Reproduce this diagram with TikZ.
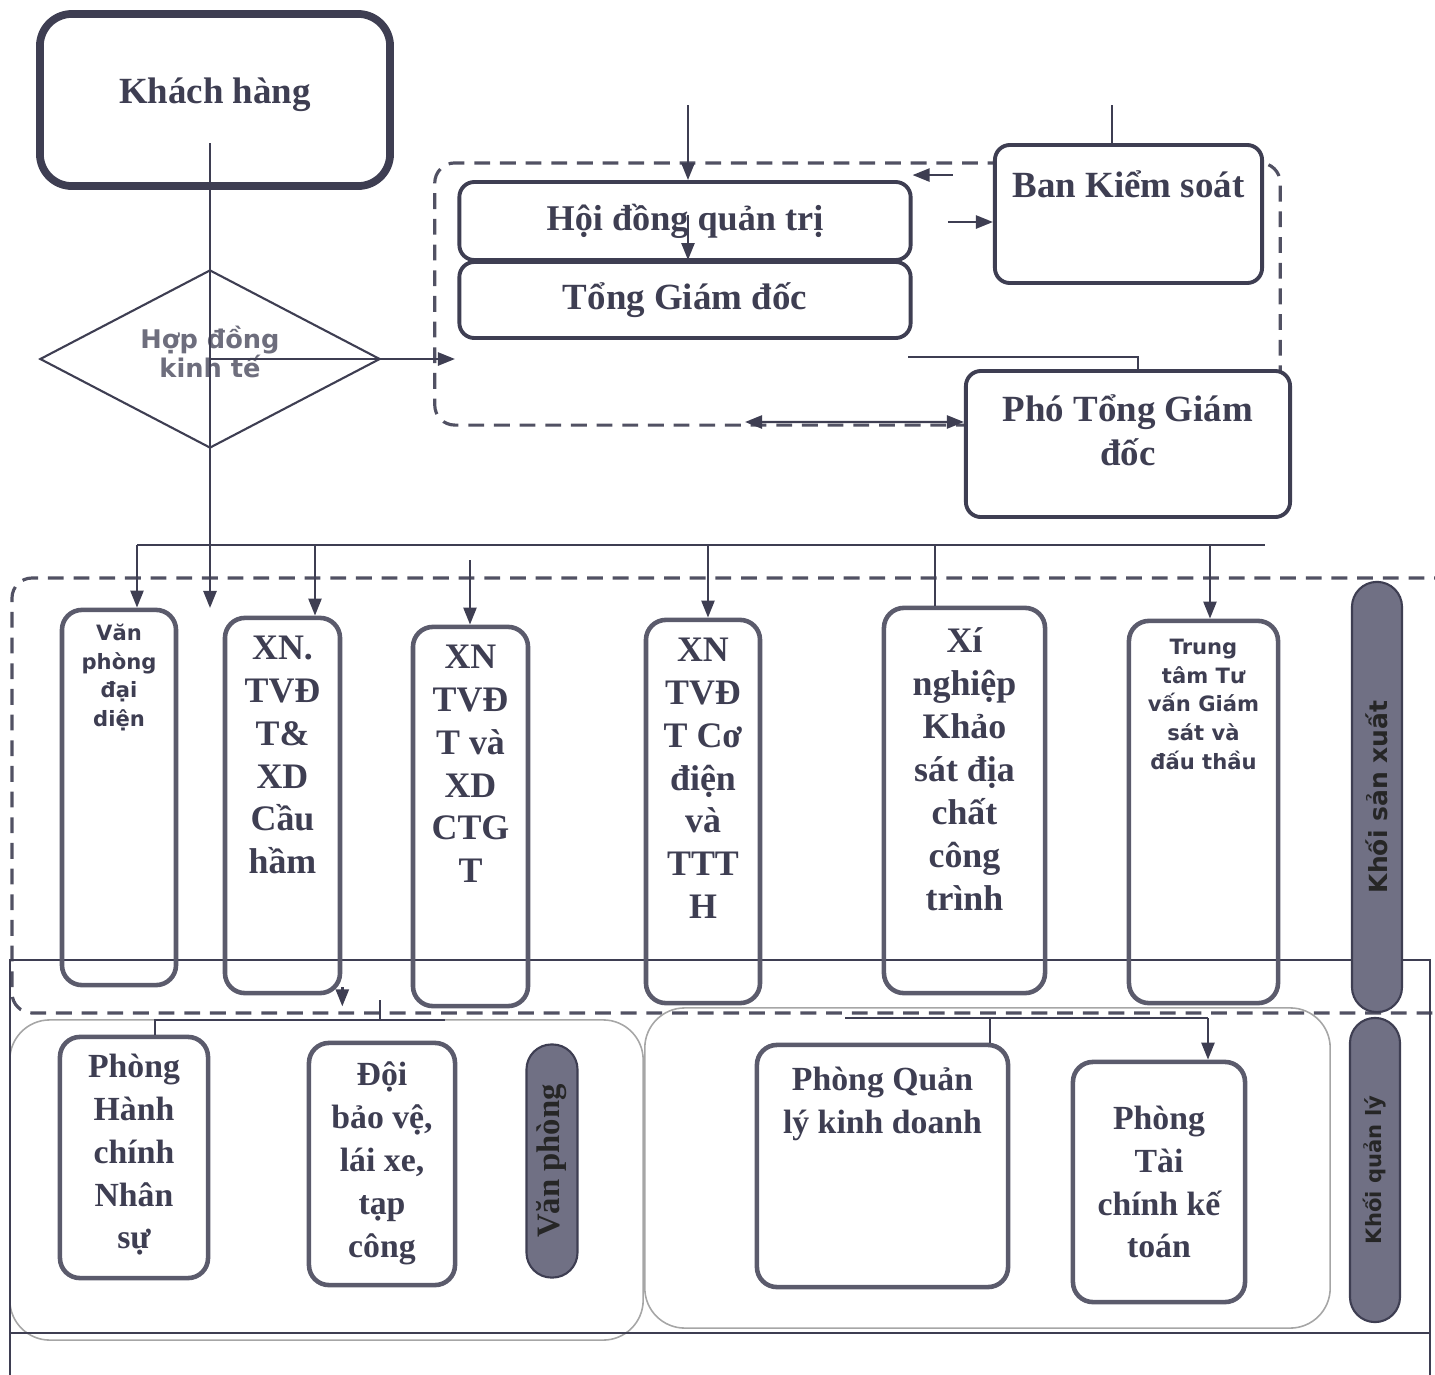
\documentclass[tikz,border=0pt]{standalone}
\usepackage{fontspec}
\setmainfont{Liberation Serif}
\newfontfamily\dejavu{DejaVu Sans}
\usetikzlibrary{positioning,shapes.geometric,arrows.meta,calc}
\definecolor{ink}{RGB}{62,62,82}
\definecolor{pillgray}{RGB}{112,112,132}
\tikzset{
  kbox/.style={draw=ink, line width=2.2pt, rounded corners=0.32cm, inner sep=0pt},
  tbox/.style={draw=ink, line width=1.1pt, rounded corners=0.15cm, inner sep=0pt},
  pbox/.style={draw=ink!85, line width=1.3pt, rounded corners=0.2cm, inner sep=0pt},
  grp/.style={draw=ink!90, line width=0.9pt, dash pattern=on 4.5pt off 2.8pt, rounded corners=0.2cm},
  sgrp/.style={draw=gray!70, line width=0.45pt, rounded corners=0.4cm},
  pill/.style={fill=pillgray, draw=ink, line width=0.6pt, rounded corners=0.25cm, inner sep=0pt, rotate=90},
  serL/.style={font=\fontsize{10.5}{12.5}\selectfont\bfseries, align=center, inner sep=0pt},
  serP/.style={font=\fontsize{10.2}{12.2}\selectfont\bfseries, align=center, inner sep=0pt},
  serB/.style={font=\fontsize{9.6}{12.2}\selectfont\bfseries, align=center, inner sep=0pt},
  sanP/.style={font=\dejavu\fontsize{6}{8.2}\selectfont\bfseries, align=center, inner sep=0pt}
}
\begin{document}
\begin{tikzpicture}[x=0.01cm, y=-0.01cm, color=ink, line width=0.7pt,
    >={Triangle[length=0.17cm,width=0.13cm]}]
  \useasboundingbox (0,0) rectangle (1435,1375);
  \clip (0,0) rectangle (1435,1375);

  % khung nhom
  \node[grp, minimum width=8.45cm, minimum height=2.62cm] (TOP) at (857.5,294) {};
  \draw[grp] (1450,578) -- (12,578) -- (12,1013) -- (1450,1013);
  \node[sgrp, minimum width=6.33cm, minimum height=3.2cm] (VPG) at (326.5,1180) {};
  \node[sgrp, minimum width=6.85cm, minimum height=3.2cm] (QLG) at (987.5,1168) {};
  \draw (10,1375) -- (10,960) -- (1430,960) -- (1430,1375);
  \draw (10,1333) -- (1430,1333);

  % khach hang, hop dong
  \node[kbox, minimum width=3.5cm, minimum height=1.72cm] (KH) at (215,100) {};
  \node[font=\fontsize{10.5}{12}\selectfont\bfseries, inner sep=0pt] (tKH) at ([yshift=0.05cm]KH.center) {Khách hàng};
  \node[diamond, draw=ink, line width=0.6pt, minimum width=3.4cm, minimum height=1.78cm,
        inner sep=0pt] (HD) at (210,359) {};
  \node[align=center, text=ink!75, inner sep=0pt,
        font=\dejavu\fontsize{7.3}{8.5}\selectfont\bfseries] (tHD) at ([yshift=0.07cm]HD.center) {Hợp đồng\\kinh tế};

  % ban lanh dao
  \node[tbox, minimum width=4.51cm, minimum height=0.78cm, font=\fontsize{10.3}{12}\selectfont\bfseries] (HDQT) at (685,221) {Hội đồng quản trị};
  \node[tbox, minimum width=4.51cm, minimum height=0.76cm, font=\fontsize{10.5}{12}\selectfont\bfseries] (TGD) at (685,300) {Tổng Giám đốc};
  \node[tbox, fill=white, minimum width=2.67cm, minimum height=1.38cm] (BKS) at (1128.5,214) {};
  \node[serL, below=0.26cm of BKS.north] (tBKS) {Ban Kiểm soát};
  \node[tbox, fill=white, minimum width=3.24cm, minimum height=1.46cm] (PTGD) at (1128,444) {};
  \node[serL, below=0.24cm of PTGD.north] (tPTGD) {Phó Tổng Giám\\đốc};

  \coordinate (hdin) at (688,105);
  \coordinate (bksin) at (1112,105);
  \coordinate (tgin) at (455,359);
  \coordinate (pt) at (908,357);
  \coordinate (dn) at (210,608);
  \draw[->] (hdin) -- (HDQT.north -| hdin);
  \draw[->] ([yshift=0.06cm]HDQT.center -| hdin) -- (TGD.north -| hdin);
  \draw (bksin) -- (BKS.north -| bksin);
  \draw[->] ($(HDQT.north east)+(40,-5)$) -- ($(HDQT.north east)+(0,-5)$);
  \draw[->] ([xshift=-0.45cm,yshift=-0.08cm]BKS.west) -- ([yshift=-0.08cm]BKS.west);
  \draw (pt) -| (PTGD.north -| 1138,0);
  \draw[<->] (745,422) -- ([yshift=0.22cm]PTGD.west);
  \draw[->] ([yshift=-0.43cm]KH.center -| dn) -- (dn);
  \draw[->] (HD.center) -- (tgin);

  % khoi san xuat
  \node[pbox, minimum width=1.14cm, minimum height=3.75cm] (VP) at (119,797.5) {};
  \node[pbox, minimum width=1.15cm, minimum height=3.75cm] (XN1) at (282.5,805.5) {};
  \node[pbox, minimum width=1.15cm, minimum height=3.79cm] (XN2) at (470.5,816.5) {};
  \node[pbox, minimum width=1.14cm, minimum height=3.83cm] (XN3) at (703,811.5) {};
  \node[pbox, minimum width=1.61cm, minimum height=3.85cm] (XN4) at (964.5,800.5) {};
  \node[pbox, minimum width=1.49cm, minimum height=3.82cm] (TT) at (1203.5,812) {};
  \node[sanP, below=0.15cm of VP.north] (tVP) {Văn\\phòng\\đại\\diện};
  \node[serP, below=0.19cm of XN1.north] (tXN1) {XN.\\TVĐ\\T\&\\XD\\Cầu\\hầm};
  \node[serP, below=0.19cm of XN2.north] (tXN2) {XN\\TVĐ\\T và\\XD\\CTG\\T};
  \node[serP, below=0.19cm of XN3.north] (tXN3) {XN\\TVĐ\\T Cơ\\điện\\và\\TTT\\H};
  \node[serP, below=0.21cm of XN4.north] (tXN4) {Xí\\nghiệp\\Khảo\\sát địa\\chất\\công\\trình};
  \node[sanP, below=0.19cm of TT.north] (tTT) {Trung\\tâm Tư\\vấn Giám\\sát và\\đấu thầu};

  \draw (137,545) -- (1265,545);
  \foreach \x/\n in {137/VP, 315/XN1, 708/XN3, 1210/TT}
    \draw[->] (\x,545) -- (\n.north -| \x,0);
  \draw (935,545) -- (XN4.north -| 935,0);
  \draw[->] (470,560) -- (XN2.north -| 470,0);

  % van phong
  \node[pbox, minimum width=1.48cm, minimum height=2.41cm] (HCNS) at (134,1157.5) {};
  \node[pbox, minimum width=1.46cm, minimum height=2.42cm] (DBV) at (382,1164) {};
  \node[serB, below=0.18cm of HCNS.north] (tHCNS) {Phòng\\Hành\\chính\\Nhân\\sự};
  \node[serB, below=0.2cm of DBV.north] (tDBV) {Đội\\bảo vệ,\\lái xe,\\tạp\\công};
  \draw[->] ([yshift=0.08cm]XN1.south east) -- ([yshift=-0.11cm]XN1.south east);
  \draw (380,1000) -- (380,1020);
  \draw (445,1020) -- (155,1020) -- (HCNS.north -| 155,0);

  % khoi quan ly
  \node[pbox, minimum width=2.51cm, minimum height=2.42cm] (QLKD) at (882.5,1166) {};
  \node[pbox, minimum width=1.72cm, minimum height=2.4cm, serB] (PTC) at (1159,1182) {Phòng\\Tài\\chính kế\\toán};
  \node[serB, below=0.23cm of QLKD.north] (tQLKD) {Phòng Quản\\lý kinh doanh};
  \draw (845,1018) -- (1208,1018);
  \draw[->] (1208,1018) -- (PTC.north -| 1208,0);
  \draw (990,1018) -- (QLKD.north -| 990,0);

  % nhan doc
  \node[pill, minimum width=4.3cm, minimum height=0.5cm, text=black!85,
        font=\dejavu\fontsize{7.1}{8}\selectfont\bfseries] (KSX) at (1377,797) {Khối sản xuất};
  \node[pill, minimum width=2.33cm, minimum height=0.51cm, text=black!85,
        font=\fontsize{9.3}{10}\selectfont\bfseries] (VPP) at (552,1161) {Văn phòng};
  \node[pill, minimum width=3.04cm, minimum height=0.5cm, text=black!85,
        font=\dejavu\fontsize{6}{7}\selectfont\bfseries] (KQL) at (1375,1170) {Khối quản lý};
\end{tikzpicture}
\end{document}
